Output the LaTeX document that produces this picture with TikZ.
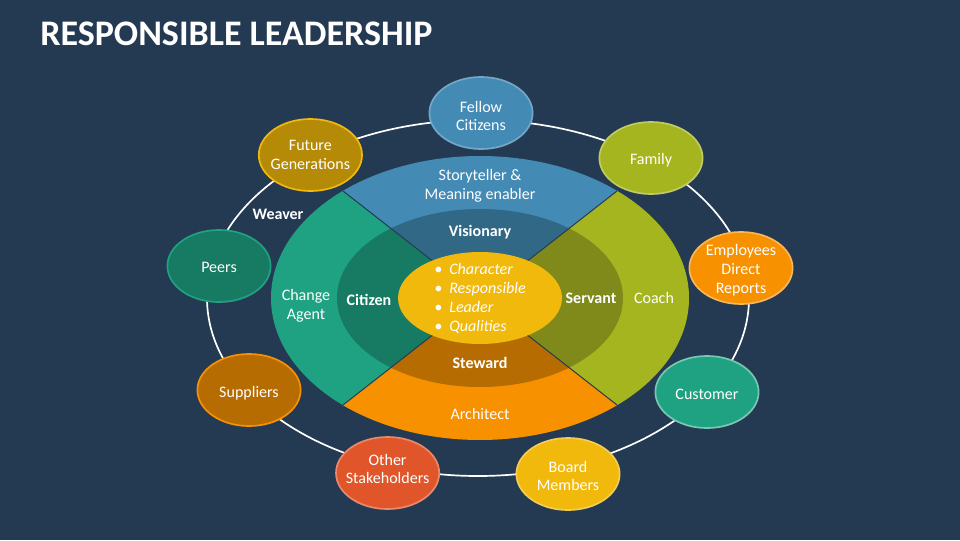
\documentclass[tikz,border=0pt]{standalone}
\usepackage{fontspec}
\setmainfont{Carlito}
\usetikzlibrary{shapes.geometric,shadows}
\definecolor{bgnavy}{HTML}{243A52}
\definecolor{ringblue}{HTML}{438AB5}
\definecolor{ringblued}{HTML}{316886}
\definecolor{ringteal}{HTML}{1EA281}
\definecolor{ringteald}{HTML}{177A62}
\definecolor{ringolive}{HTML}{A5B51F}
\definecolor{ringolived}{HTML}{7F8A1B}
\definecolor{ringorange}{HTML}{F79100}
\definecolor{ringoranged}{HTML}{B66C00}
\definecolor{coreyellow}{HTML}{F0B90B}
\definecolor{ochre}{HTML}{B48A07}
\definecolor{redorange}{HTML}{E0562A}
\tikzset{
  lbl/.style={text=white,align=center,inner sep=0pt,font=\fontsize{11.4}{13.45}\selectfont},
  lblb/.style={lbl,font=\fontsize{11.4}{13.45}\selectfont\bfseries},
  party/.style={ellipse,draw=#1,line width=1.2pt,minimum width=2.58cm,minimum height=1.8cm,
    inner sep=0pt,drop shadow={opacity=0.35,shadow xshift=0.4pt,shadow yshift=-0.6pt}},
  sepline/.style={draw=bgnavy,line width=0.7pt}
}
\begin{document}
\begin{tikzpicture}
        \fill[bgnavy] (0,0) rectangle (24,13.5);
        \useasboundingbox (0,0) rectangle (24,13.5);
        \node[anchor=west,text=white,inner sep=0pt,font=\fontsize{25.6}{30}\selectfont\bfseries] (title) at (1,12.65) {RESPONSIBLE LEADERSHIP};
        % outer ring behind everything
        \draw[white,line width=1.2pt] (11.95,6.05) ellipse (6.775 and 4.45);
        % four quarters of the big oval
        \coordinate (mid) at (12,6.05);
        \coordinate (tl) at (8.575,8.725);
        \coordinate (tr) at (15.425,8.725);
        \coordinate (bl) at (8.575,3.375);
        \coordinate (br) at (15.425,3.375);
        \begin{scope}
            \clip (mid) -- (5.15,11.4) -- (18.85,11.4) -- cycle;
            \fill[ringblue] (mid) ellipse (5.225 and 3.55);
            \fill[ringblued] (mid) ellipse (3.575 and 2.225);
        \end{scope}
        \begin{scope}
            \clip (mid) -- (5.15,11.4) -- (5.15,0.7) -- cycle;
            \fill[ringteal] (mid) ellipse (5.225 and 3.55);
            \fill[ringteald] (mid) ellipse (3.575 and 2.225);
        \end{scope}
        \begin{scope}
            \clip (mid) -- (18.85,11.4) -- (18.85,0.7) -- cycle;
            \fill[ringolive] (mid) ellipse (5.225 and 3.55);
            \fill[ringolived] (mid) ellipse (3.575 and 2.225);
        \end{scope}
        \begin{scope}
            \clip (mid) -- (5.15,0.7) -- (18.85,0.7) -- cycle;
            \fill[ringorange] (mid) ellipse (5.225 and 3.55);
            \fill[ringoranged] (mid) ellipse (3.575 and 2.225);
        \end{scope}
        \draw[sepline] (tl) -- (br);
        \draw[sepline] (tr) -- (bl);
        \node[ellipse,fill=coreyellow,minimum width=4.1cm,minimum height=2.3cm,inner sep=0pt] (core) at (mid) {};
        % labels on the oval
        \node[lbl] (story) at (12,8.85) {Storyteller \&\\Meaning enabler};
        \node[lblb] (vision) at (12,7.7) {Visionary};
        \node[lbl] (change) at (7.65,5.865) {Change\\Agent};
        \node[lblb] (citizen) at (9.225,6) {Citizen};
        \node[lblb] (servant) at (14.775,6.05) {Servant};
        \node[lbl] (coach) at (16.35,6.05) {Coach};
        \node[lblb] (steward) at (12,4.425) {Steward};
        \node[lbl] (architect) at (12,3.15) {Architect};
        \node[lblb] (weaver) at (6.95,8.15) {Weaver};
        \node[lbl,anchor=west,align=left,font=\fontsize{11.4}{13.45}\selectfont\itshape] (qualities) at (10.85,6.035)
            {\makebox[0.375cm][l]{\textbullet}Character\\\makebox[0.375cm][l]{\textbullet}Responsible\\\makebox[0.375cm][l]{\textbullet}Leader\\\makebox[0.375cm][l]{\textbullet}Qualities};
        % people around the ring
        \node[party={ringblue!75!white},fill=ringblue] (fellow) at (12.025,10.675) {};
        \node[party=coreyellow,fill=ochre] (future) at (7.76,9.625) {};
        \node[party={ringolive!70!white},fill=ringolive] (family) at (16.275,9.55) {};
        \node[party={ringorange!65!white},fill=ringorange] (employees) at (18.525,6.8) {};
        \node[party={ringteal!60!white},fill=ringteal] (customer) at (17.675,3.7) {};
        \node[party={coreyellow!70!white},fill=coreyellow] (board) at (14.2,1.65) {};
        \node[party={redorange!70!white},fill=redorange] (other) at (9.69,1.675) {};
        \node[party=ringorange,fill=ringoranged] (suppliers) at (6.225,3.75) {};
        \node[party=ringteal,fill=ringteald] (peers) at (5.475,6.85) {};
        \node[lbl] (fellowt) at (12.025,10.6) {Fellow\\Citizens};
        \node[lbl] (futuret) at (7.76,9.625) {Future\\Generations};
        \node[lbl] (familyt) at (16.275,9.5) {Family};
        \node[lbl] (employeest) at (18.525,6.75) {Employees\\Direct\\Reports};
        \node[lbl] (customert) at (17.675,3.65) {Customer};
        \node[lbl] (boardt) at (14.2,1.6) {Board\\Members};
        \node[lbl] (othert) at (9.69,1.775) {Other\\Stakeholders};
        \node[lbl] (supplierst) at (6.225,3.675) {Suppliers};
        \node[lbl] (peerst) at (5.475,6.825) {Peers};
\end{tikzpicture}
\end{document}
